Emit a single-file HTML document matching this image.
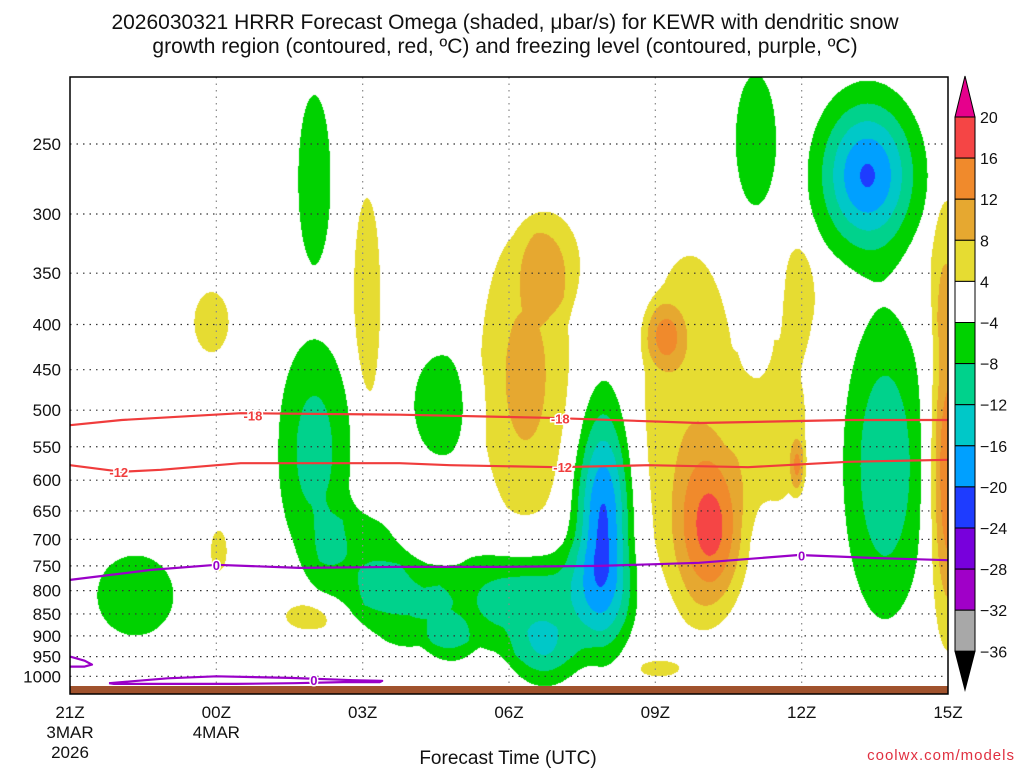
<!DOCTYPE html>
<html><head><meta charset="utf-8"><style>
body{margin:0;background:#fff;width:1024px;height:768px;overflow:hidden;font-family:"Liberation Sans",sans-serif}
#wrap{position:relative;width:1024px;height:768px}
canvas{position:absolute;left:0;top:0}
svg{position:absolute;left:0;top:0}
</style></head><body>
<div id="wrap">
<canvas id="cv" width="1024" height="768"></canvas>
<svg id="sv" width="1024" height="768"></svg>
</div>
<script>
// ---- data ----
const timeTicks=[0,3,6,9,12,15,18];
const timeLabels=[["21Z","3MAR","2026"],["00Z","4MAR"],["03Z"],["06Z"],["09Z"],["12Z"],["15Z"]];
const presTicks=[250,300,350,400,450,500,550,600,650,700,750,800,850,900,950,1000];
const cbLevels=[20,16,12,8,4,-4,-8,-12,-16,-20,-24,-28,-32,-36];
// omega features: time(h from 21Z), pressure(hPa), half-width(h), half-height(ln p), peak (ubar/s)
const blobT=[5.0,5.0,5.92,6.85,7.78,9.42,10.92,9.73,7.62,1.33,14.05,14.05,16.34,16.7, 2.89,6.08,3.04,4.92,9.33,9.88,12.7,13.16,12.18,14.45,14.96,14.9,18.0,17.9,12.03];
const blobP=[274,555,739,830,910,820,666,946,493,809,247,416,271,577, 397,373,720,852,456,340,527,683,411,513,366,577,584,338,979];
const blobW=[0.33,0.74,0.82,0.82,0.37,1.94,0.72,0.61,0.57,0.78,0.41,0.22,1.23,0.86, 0.35,0.27,0.16,0.51,0.92,0.51,0.98,0.72,0.37,0.61,0.31,0.14,0.45,0.25,0.37];
const blobH=[0.22,0.29,0.117,0.104,0.047,0.143,0.365,0.078,0.13,0.104,0.17,0.073,0.247,0.40, 0.078,0.26,0.052,0.039,0.378,0.104,0.456,0.21,0.078,0.21,0.13,0.065,0.47,0.18,0.018];
const blobPeak=[-6,-10,-7,-7,-6,-11,-20.5,-8,-6,-6,-6,-6,-20.5,-11.5, 6,6,5,6,9.5,6,7.5,12.5,9,6,6,9,16,6,5];
// temperature contours
const m18T=[0,1.06,3.5,6.76,9.8,12.9,15.95,18];
const m18P=[520,513,504,506,510,517,513,513];
const m12T=[0,1.06,1.86,3.5,6.76,7.79,10.0,11.86,13.9,15.95,18];
const m12P=[577,587,584,574,574,577,580,577,580,572,569];
const f0T=[0,1.66,3.0,4.7,6.76,8.8,10.86,12.9,14.94,16.55,18];
const f0P=[778,758,748,754,752,752,750,744,729,735,739];
const f0bT=[0.8,2.0,3.0,4.5,5.8,6.4,6.35,5.6,4.6,3.4,2.0,0.9,0.8];
const f0bP=[1018,1005,1000,1004,1010,1012,1015,1015,1018,1020,1020,1020,1018];
const f0cT=[0,0.3,0.45,0.3,0];
const f0cP=[950,960,970,975,975];
const cbColors=["#e6008c","#f54545","#f08a2c","#e6a830","#e6dc32","#ffffff","#00d200","#00d28c","#00c8c8","#00a0ff","#1e3cff","#7800dc","#a000c8","#a8a8a8","#000000"];
// ---- axes ----
const X0=70,X1=948,Y0=77,YB=686;
const xs=t=>X0+t*(X1-X0)/18;
const ys=p=>144+Math.log(p/250)*384;
const NS="http://www.w3.org/2000/svg";
const sv=document.getElementById('sv');
function mk(tag,attrs,parent){const e=document.createElementNS(NS,tag);for(const k in attrs)e.setAttribute(k,attrs[k]);(parent||sv).appendChild(e);return e;}
function colorFor(v){
 if(v>=20)return cbColors[0];if(v>=16)return cbColors[1];if(v>=12)return cbColors[2];if(v>=8)return cbColors[3];if(v>=4)return cbColors[4];
 if(v>-4)return null;if(v>-8)return cbColors[6];if(v>-12)return cbColors[7];if(v>-16)return cbColors[8];if(v>-20)return cbColors[9];if(v>-24)return cbColors[10];if(v>-28)return cbColors[11];if(v>-32)return cbColors[12];if(v>-36)return cbColors[13];return cbColors[14];}
function hex(c){return [parseInt(c.substr(1,2),16),parseInt(c.substr(3,2),16),parseInt(c.substr(5,2),16)];}
// shading
const cv=document.getElementById('cv');const ctx=cv.getContext('2d');
const W=X1-X0,H=YB-Y0;const img=ctx.createImageData(W,H);
for(let j=0;j<H;j++){const y=Y0+j;const lp=Math.log(250)+(y-144)/384;
 for(let i=0;i<W;i++){const t=i*18/W;let v=0;
  for(let b=0;b<blobT.length;b++){const dx=(t-blobT[b])/blobW[b];const dy=(lp-Math.log(blobP[b]))/blobH[b];const r2=dx*dx+dy*dy;if(r2>3)continue;
   const a=Math.abs(blobPeak[b]);v+=Math.sign(blobPeak[b])*4*Math.pow(a/4,1-r2)*(r2>1?Math.max(0,1-(r2-1)/2):1);}
  const c=colorFor(v);const k=(j*W+i)*4;
  if(c){const rgb=hex(c);img.data[k]=rgb[0];img.data[k+1]=rgb[1];img.data[k+2]=rgb[2];}else{img.data[k]=255;img.data[k+1]=255;img.data[k+2]=255;}
  img.data[k+3]=255;}}
ctx.putImageData(img,X0,Y0);
// grid
presTicks.forEach(p=>{const l=mk('line',{x1:X0,x2:X1,y1:ys(p),y2:ys(p),stroke:'#333','stroke-width':1.2,'stroke-dasharray':'1.5,5'});

const tx=mk('text',{x:61,y:ys(p)+6,'text-anchor':'end','font-size':17,fill:'#111'});tx.textContent=p;
});
timeTicks.forEach((t,i)=>{if(i>0&&i<6){const l=mk('line',{x1:xs(t),x2:xs(t),y1:Y0,y2:YB,stroke:'#888','stroke-width':1.2,'stroke-dasharray':'1.5,5'});
 }
 timeLabels[i].forEach((s,k)=>{const tx=mk('text',{x:xs(t),y:718+k*20,'text-anchor':'middle','font-size':17,fill:'#111'});tx.textContent=s;
 });});
// ground
const g=mk('rect',{x:X0,y:YB,width:W,height:8,fill:'#a0522d'});
// contours
function line(T,P,col,name){const d=T.map((t,i)=>(i?'L':'M')+xs(t).toFixed(1)+','+ys(P[i]).toFixed(1)).join(' ');
 const e=mk('path',{d:d,fill:'none',stroke:col,'stroke-width':2.2,'stroke-linejoin':'round'});}
line(m18T,m18P,'#f03c3c','contour-minus18');
line(m12T,m12P,'#f03c3c','contour-minus12');
line(f0T,f0P,'#9a00c8','freezing-level');
line(f0bT,f0bP,'#9a00c8','freezing-level-lower');
line(f0cT,f0cP,'#9a00c8','freezing-level-corner');
function lab(t,p,s,col,name){const x=xs(t),y=ys(p);
 const tx=mk('text',{x:x,y:y+5,'text-anchor':'middle','font-size':13,'font-weight':'bold',fill:col,stroke:'#fff','stroke-width':3,'paint-order':'stroke'});tx.textContent=s;
 }
lab(3.75,507,'-18','#f03c3c','label-minus18');lab(10.05,511,'-18','#f03c3c','label-minus18');
lab(1.0,587,'-12','#f03c3c','label-minus12');lab(10.1,580,'-12','#f03c3c','label-minus12');
lab(3.0,748,'0','#9a00c8','label-0');lab(15.0,730,'0','#9a00c8','label-0');lab(5.0,1010,'0','#9a00c8','label-0');
// frame
const fr=mk('rect',{x:X0,y:Y0,width:W,height:YB+8-Y0,fill:'none',stroke:'#000','stroke-width':1.5});
// colorbar
const CX=955,CW=20,CT=117,CS=41.1;
const tri1=mk('polygon',{points:`${CX},${CT} ${CX+CW},${CT} ${CX+CW/2},76`,fill:cbColors[0],stroke:'#000'});
for(let i=0;i<13;i++){const r=mk('rect',{x:CX,y:CT+i*CS,width:CW,height:CS,fill:cbColors[i+1],stroke:'#000'});}
const cbB=CT+13*CS;
const tri2=mk('polygon',{points:`${CX},${cbB} ${CX+CW},${cbB} ${CX+CW/2},690`,fill:'#000',stroke:'#000'});
cbLevels.forEach((v,i)=>{const tx=mk('text',{x:980,y:CT+i*CS+6,'font-size':16,fill:'#111'});tx.textContent=v<0?'\u2212'+(-v):v;
 });
// titles
const t1=mk('text',{x:505,y:29,'text-anchor':'middle','font-size':21,fill:'#111'});t1.textContent='2026030321 HRRR Forecast Omega (shaded, \u03bcbar/s) for KEWR with dendritic snow';

const t2=mk('text',{x:505,y:53,'text-anchor':'middle','font-size':21,fill:'#111'});t2.textContent='growth region (contoured, red, \u00baC) and freezing level (contoured, purple, \u00baC)';

const xt=mk('text',{x:508,y:764,'text-anchor':'middle','font-size':19,fill:'#111'});xt.textContent='Forecast Time (UTC)';

const cr=mk('text',{x:1015,y:760,'text-anchor':'end','font-size':15,fill:'#e03040','letter-spacing':'1'});cr.textContent='coolwx.com/models';

</script>
</body></html>
